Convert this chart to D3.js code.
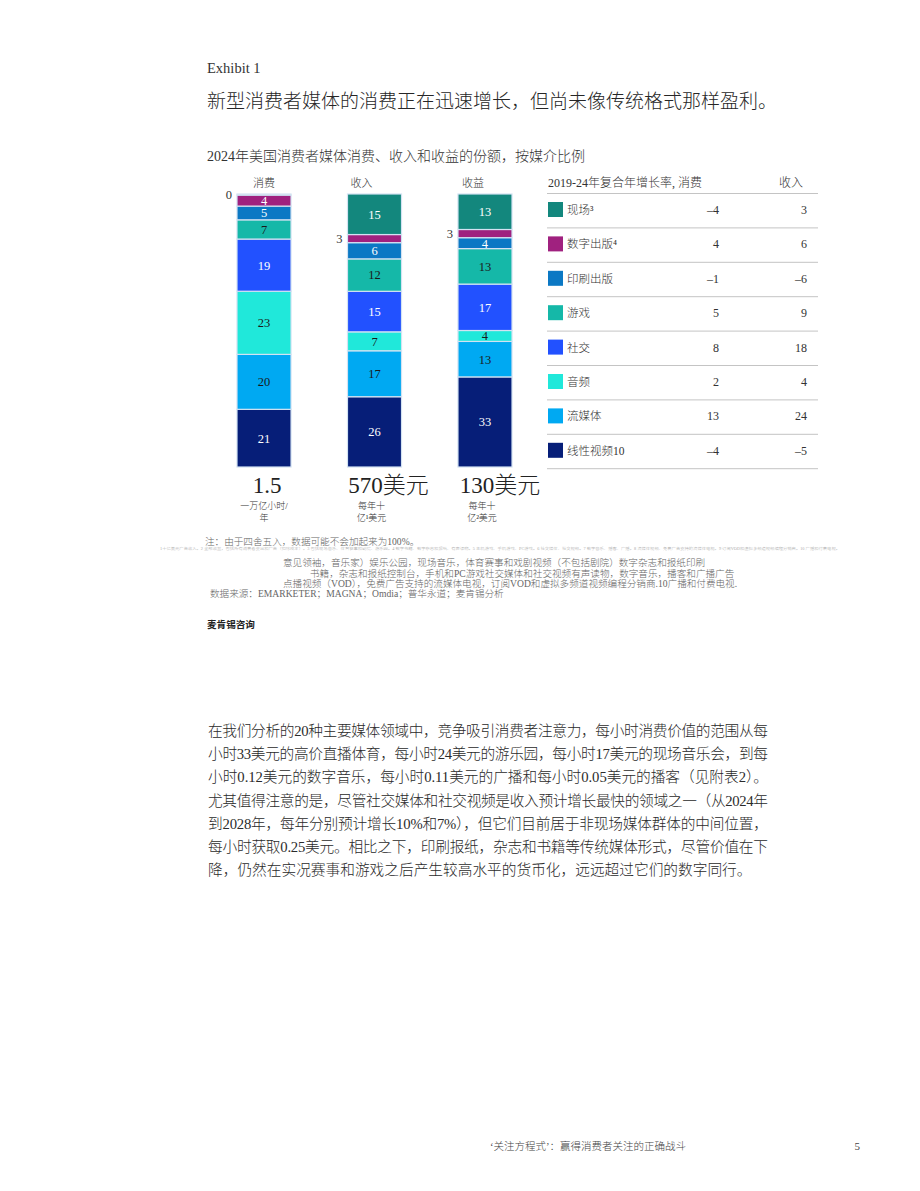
<!DOCTYPE html>
<html>
<head>
<meta charset="utf-8">
<script src="https://cdn.jsdelivr.net/npm/d3@7"></script>
<style>
  body { margin: 0; background: #fff; }
  svg text { font-family: "Liberation Serif", "Noto Sans CJK SC", serif; font-weight: 300; }
</style>
</head>
<body>
<div id="page"></div>
<script>
// media categories, top of the stack first
const categories = ["现场", "数字出版", "印刷出版", "游戏", "社交", "音频", "流媒体", "线性视频"];
const legendLabels = ["现场³", "数字出版⁴", "印刷出版", "游戏", "社交", "音频", "流媒体", "线性视频10"];
const columns = ["消费", "收入", "收益"];

// shares in %, same order as categories (consumption "0" is a sliver)
const consumptionShare = [0.4, 4, 5, 7, 19, 23, 20, 21];
const revenueShare = [15, 3, 6, 12, 15, 7, 17, 26];
const profitShare = [13, 3, 4, 13, 17, 4, 13, 33];

const totals = ["1.5", "570美元", "130美元"];
const totalUnits = [["一万亿小时/", "年"], ["每年十", "亿¹美元"], ["每年十", "亿²美元"]];

// 2019-24 CAGR
const cagrConsumption = [-4, 4, -1, 5, 8, 2, 13, -4];
const cagrRevenue = [3, 6, -6, 9, 18, 4, 24, -5];

const colors = ["#13877d", "#a0217f", "#0b78c4", "#15b8a8", "#2251ff", "#20e8da", "#00a9f2", "#061e78"];
const darkText = ["游戏", "音频", "流媒体"];

const bodyLines = [
  "在我们分析的20种主要媒体领域中，竞争吸引消费者注意力，每小时消费价值的范围从每",
  "小时33美元的高价直播体育，每小时24美元的游乐园，每小时17美元的现场音乐会，到每",
  "小时0.12美元的数字音乐，每小时0.11美元的广播和每小时0.05美元的播客（见附表2）。",
  "尤其值得注意的是，尽管社交媒体和社交视频是收入预计增长最快的领域之一（从2024年",
  "到2028年，每年分别预计增长10%和7%），但它们目前居于非现场媒体群体的中间位置，",
  "每小时获取0.25美元。相比之下，印刷报纸，杂志和书籍等传统媒体形式，尽管价值在下",
  "降，仍然在实况赛事和游戏之后产生较高水平的货币化，远远超过它们的数字同行。"
];

const W = 920, H = 1191;
const svg = d3.select("#page").append("svg").attr("width", W).attr("height", H);

// titles
svg.append("text").attr("x", 207).attr("y", 73).attr("font-size", 14.5).attr("fill", "#333").text("Exhibit 1");
svg.append("text").attr("x", 207).attr("y", 108).attr("font-size", 19).attr("fill", "#262626")
  .text("新型消费者媒体的消费正在迅速增长，但尚未像传统格式那样盈利。");
svg.append("text").attr("x", 207).attr("y", 161).attr("font-size", 14).attr("fill", "#333")
  .text("2024年美国消费者媒体消费、收入和收益的份额，按媒介比例");

// stacked bars
const rows = columns.map((c, i) => {
  const src = [consumptionShare, revenueShare, profitShare][i];
  const r = { col: c };
  categories.forEach((k, j) => r[k] = src[j]);
  return r;
});

const stack = d3.stack()
  .keys(categories.slice().reverse())
  .offset(d3.stackOffsetExpand);
const series = stack(rows);

const x = d3.scaleBand().domain(columns).range([237, 512]).paddingInner(0.511).paddingOuter(0);
const y = d3.scaleLinear().domain([0, 1]).range([467, 194]);
const color = d3.scaleOrdinal().domain(categories).range(colors);

const g = svg.append("g");
const layer = g.selectAll("g.layer").data(series).join("g").attr("class", "layer")
  .attr("fill", d => color(d.key));

layer.selectAll("rect").data(d => d.map(p => ({ key: d.key, p: p })))
  .join("rect")
  .attr("x", d => x(d.p.data.col))
  .attr("width", x.bandwidth())
  .attr("y", d => y(d.p[1]))
  .attr("height", d => Math.max(0, y(d.p[0]) - y(d.p[1])))
  .attr("stroke", "#d3e2f2")
  .attr("stroke-width", 1.2);

layer.selectAll("text").data(d => d.map(p => ({ key: d.key, p: p })))
  .join("text")
  .attr("x", d => {
    const v = d.p.data[d.key];
    return v < 3.5 ? x(d.p.data.col) - 5 : x(d.p.data.col) + x.bandwidth() / 2;
  })
  .attr("y", d => (y(d.p[0]) + y(d.p[1])) / 2)
  .attr("dy", "0.35em")
  .attr("text-anchor", d => d.p.data[d.key] < 3.5 ? "end" : "middle")
  .attr("font-size", 12.5)
  .attr("fill", d => {
    if (d.p.data[d.key] < 3.5) return "#333";
    return darkText.includes(d.key) ? "#1a1a1a" : "#fff";
  })
  .text(d => Math.round(d.p.data[d.key]));

// column headers
const headShift = [0, -13, -12];
g.selectAll("text.head").data(columns).join("text").attr("class", "head")
  .attr("x", (d, i) => x(d) + x.bandwidth() / 2 + headShift[i])
  .attr("y", 187).attr("text-anchor", "middle").attr("font-size", 11).attr("fill", "#333")
  .text(d => d);

// totals under bars
const totShift = [3, 14, 15];
g.selectAll("text.total").data(totals).join("text").attr("class", "total")
  .attr("x", (d, i) => x(columns[i]) + x.bandwidth() / 2 + totShift[i])
  .attr("y", 493).attr("text-anchor", "middle").attr("font-size", 23).attr("fill", "#222")
  .text(d => d);

totalUnits.forEach((lines, i) => {
  lines.forEach((t, j) => {
    g.append("text")
      .attr("x", x(columns[i]) + x.bandwidth() / 2 + (i ? -3 : 0))
      .attr("y", 509 + j * 12)
      .attr("text-anchor", "middle").attr("font-size", 9).attr("fill", "#333")
      .text(t);
  });
});

// CAGR table
const tx0 = 547, tx1 = 818, rowTop = 193, rowH = 34.4;
const fmt = v => v < 0 ? "–" + Math.abs(v) : String(v);
const tbl = svg.append("g");
tbl.append("text").attr("x", 548).attr("y", 187).attr("font-size", 12).attr("fill", "#333")
  .text("2019-24年复合年增长率, 消费");
tbl.append("text").attr("x", 803).attr("y", 187).attr("text-anchor", "end").attr("font-size", 12).attr("fill", "#333")
  .text("收入");

const rowY = d3.scaleLinear().domain([0, categories.length]).range([rowTop, rowTop + rowH * categories.length]);
tbl.selectAll("line.rule").data(d3.range(categories.length + 1)).join("line").attr("class", "rule")
  .attr("x1", tx0).attr("x2", tx1)
  .attr("y1", d => rowY(d) + 0.5).attr("y2", d => rowY(d) + 0.5)
  .attr("stroke", "#c4c4c4").attr("stroke-width", 1);

const tr = tbl.selectAll("g.row").data(categories).join("g").attr("class", "row")
  .attr("transform", (d, i) => `translate(0,${rowY(i)})`);
tr.append("rect").attr("x", 548).attr("y", 9).attr("width", 15).attr("height", 15)
  .attr("fill", d => color(d));
tr.append("text").attr("x", 567).attr("y", 21).attr("font-size", 11.5).attr("fill", "#333")
  .text((d, i) => legendLabels[i]);
tr.append("text").attr("x", 719).attr("y", 21).attr("text-anchor", "end").attr("font-size", 12).attr("fill", "#333")
  .text((d, i) => fmt(cagrConsumption[i]));
tr.append("text").attr("x", 807).attr("y", 21).attr("text-anchor", "end").attr("font-size", 12).attr("fill", "#333")
  .text((d, i) => fmt(cagrRevenue[i]));

// notes
const notes = svg.append("g").attr("fill", "#666").attr("font-size", 9.6);
notes.append("text").attr("x", 205).attr("y", 545).text("注：由于四舍五入，数据可能不会加起来为100%。");
notes.append("text").attr("x", 160).attr("y", 550).attr("font-size", 3.6).attr("fill", "#aaa")
  .attr("textLength", 680).attr("lengthAdjust", "spacingAndGlyphs")
  .text("1十亿美元广告收入。2 全部收益，包括所有消费者支出和广告（扣除成本）。3 包括现场音乐、体育赛事和剧院、游乐园。4 数字书籍、数字杂志和报纸、有声读物。5 主机游戏、手机游戏、PC游戏。6 社交媒体、社交视频。7 数字音乐、播客、广播。8 流媒体视频、免费广告支持的流媒体电视。9 订阅VOD和虚拟多频道视频编程分销商。10 广播和付费电视。");
notes.append("text").attr("x", 283).attr("y", 566).text("意见领袖，音乐家）娱乐公园，现场音乐，体育赛事和戏剧视频（不包括剧院）数字杂志和报纸印刷");
notes.append("text").attr("x", 310).attr("y", 577).text("书籍，杂志和报纸控制台，手机和PC游戏社交媒体和社交视频有声读物，数字音乐，播客和广播广告");
notes.append("text").attr("x", 283).attr("y", 587).text("点播视频（VOD），免费广告支持的流媒体电视，订阅VOD和虚拟多频道视频编程分销商.10广播和付费电视.");
notes.append("text").attr("x", 210).attr("y", 597).text("数据来源：EMARKETER；MAGNA；Omdia；普华永道；麦肯锡分析");
notes.append("text").attr("x", 207).attr("y", 628).attr("fill", "#222").style("font-weight", "bold").text("麦肯锡咨询");

// body paragraph
const body = svg.append("g").attr("fill", "#2a2a2a").attr("font-size", 14.7);
bodyLines.forEach((t, i) => {
  const el = body.append("text").attr("x", 208).attr("y", 736 + i * 23.2).text(t);
  if (i < bodyLines.length - 1) el.attr("textLength", 560).attr("lengthAdjust", "spacing");
});

// footer
svg.append("text").attr("x", 490).attr("y", 1150).attr("font-size", 10.5).attr("fill", "#444")
  .text("‘关注方程式’：赢得消费者关注的正确战斗");
svg.append("text").attr("x", 860).attr("y", 1150).attr("text-anchor", "end").attr("font-size", 11).attr("fill", "#444")
  .text("5");
</script>
</body>
</html>
